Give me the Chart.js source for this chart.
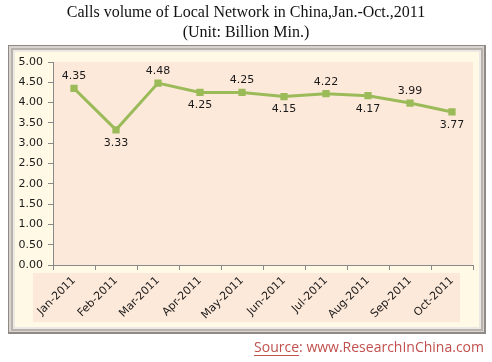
<!DOCTYPE html>
<html><head><meta charset="utf-8">
<script src="https://cdn.jsdelivr.net/npm/chart.js@4"></script>
<style>html,body{margin:0;padding:0;background:#fff;}#wrap{width:492px;height:362px;position:relative;}</style>
</head><body><div id="wrap"><canvas id="c" width="492" height="362"></canvas></div>
<script>
const categories = ["Jan-2011","Feb-2011","Mar-2011","Apr-2011","May-2011","Jun-2011","Jul-2011","Aug-2011","Sep-2011","Oct-2011"];
const callsVolume = [4.35,3.33,4.48,4.25,4.25,4.15,4.22,4.17,3.99,3.77];
const labelAbove = [true,false,true,false,true,false,true,false,true,false];
const yTicks = [0,0.5,1,1.5,2,2.5,3,3.5,4,4.5,5];
const titleLines = ["Calls volume of Local Network in China,Jan.-Oct.,2011","(Unit: Billion Min.)"];
const sourceLabel = "Source";
const sourceRest = ": www.ResearchInChina.com";

const bgPlugin = {
  id:'bg',
  beforeDraw(chart){
    const ctx = chart.ctx;
    ctx.save();
    ctx.fillStyle='#fff'; ctx.fillRect(0,0,492,362);
    const L=8,T=45,R=486,B=334;
    ctx.fillStyle='#8f8a85'; ctx.fillRect(L,T,R-L,B-T);
    ctx.fillStyle='#d9d4cf'; ctx.fillRect(L+1,T+1,R-L-3,B-T-3);
    ctx.fillStyle='#b8b2ac'; ctx.fillRect(L+3,T+3,R-L-6,B-T-6);
    ctx.fillStyle='#ece8e3'; ctx.fillRect(L+5,T+5,R-L-10,B-T-10);
    ctx.fillStyle='#fff9e6'; ctx.fillRect(L+7,T+7,R-L-14,B-T-14);
    const a = chart.chartArea;
    ctx.fillStyle='#fde9da';
    ctx.fillRect(a.left,a.top,a.right-a.left,a.bottom-a.top);
    ctx.fillRect(33,273,427,49);
    ctx.restore();
  },
  afterDraw(chart){
    const ctx = chart.ctx;
    ctx.save();
    ctx.fillStyle='#111';
    ctx.textAlign='center'; ctx.textBaseline='middle';
    ctx.font='16px "Liberation Serif", serif';
    ctx.fillText(titleLines[0],246,13);
    ctx.fillText(titleLines[1],246,33);
    const meta = chart.getDatasetMeta(0);
    ctx.font='11px "DejaVu Sans", sans-serif';
    ctx.fillStyle='#1a1a1a';
    meta.data.forEach((pt,i)=>{
      const dy = labelAbove[i] ? -12 : 13;
      ctx.fillText(callsVolume[i].toFixed(2), pt.x, pt.y+dy);
    });
    ctx.font='14px "Open Sans", sans-serif';
    ctx.textAlign='left'; ctx.textBaseline='middle';
    const w1 = ctx.measureText(sourceLabel).width;
    const w2 = ctx.measureText(sourceRest).width;
    const x0 = 484 - w1 - w2;
    ctx.fillStyle='#c0504d';
    ctx.fillText(sourceLabel,x0,348);
    ctx.fillRect(x0,355,w1,1);
    ctx.fillText(sourceRest,x0+w1,348);
    ctx.restore();
  }
};

new Chart(document.getElementById('c'),{
  type:'line',
  data:{labels:categories,datasets:[{data:callsVolume,borderColor:'#9bbb59',backgroundColor:'#9bbb59',borderWidth:3,pointStyle:'rect',pointRadius:3,pointHoverRadius:3,tension:0}]},
  options:{
    responsive:false,animation:false,devicePixelRatio:1,
    layout:{padding:{left:0,right:19,top:62,bottom:0}},
    plugins:{legend:{display:false},title:{display:false},tooltip:{enabled:false}},
    scales:{
      x:{offset:true,
        grid:{offset:true,drawOnChartArea:false,drawTicks:true,tickLength:5,color:'#888'},
        border:{color:'#888',width:1},
        ticks:{minRotation:45,maxRotation:45,autoSkip:false,color:'#1a1a1a',font:{family:'"DejaVu Sans", sans-serif',size:11},padding:4},
        afterFit(s){s.height=97;}
      },
      y:{min:0,max:5,
        afterBuildTicks(s){s.ticks=yTicks.map(v=>({value:v}));},
        grid:{drawOnChartArea:false,drawTicks:true,tickLength:5,color:'#888'},
        border:{color:'#888',width:1},
        ticks:{color:'#1a1a1a',font:{family:'"DejaVu Sans", sans-serif',size:11},padding:5,callback:v=>Number(v).toFixed(2)},
        afterFit(s){s.width=53;}
      }
    }
  },
  plugins:[bgPlugin]
});
</script></body></html>
